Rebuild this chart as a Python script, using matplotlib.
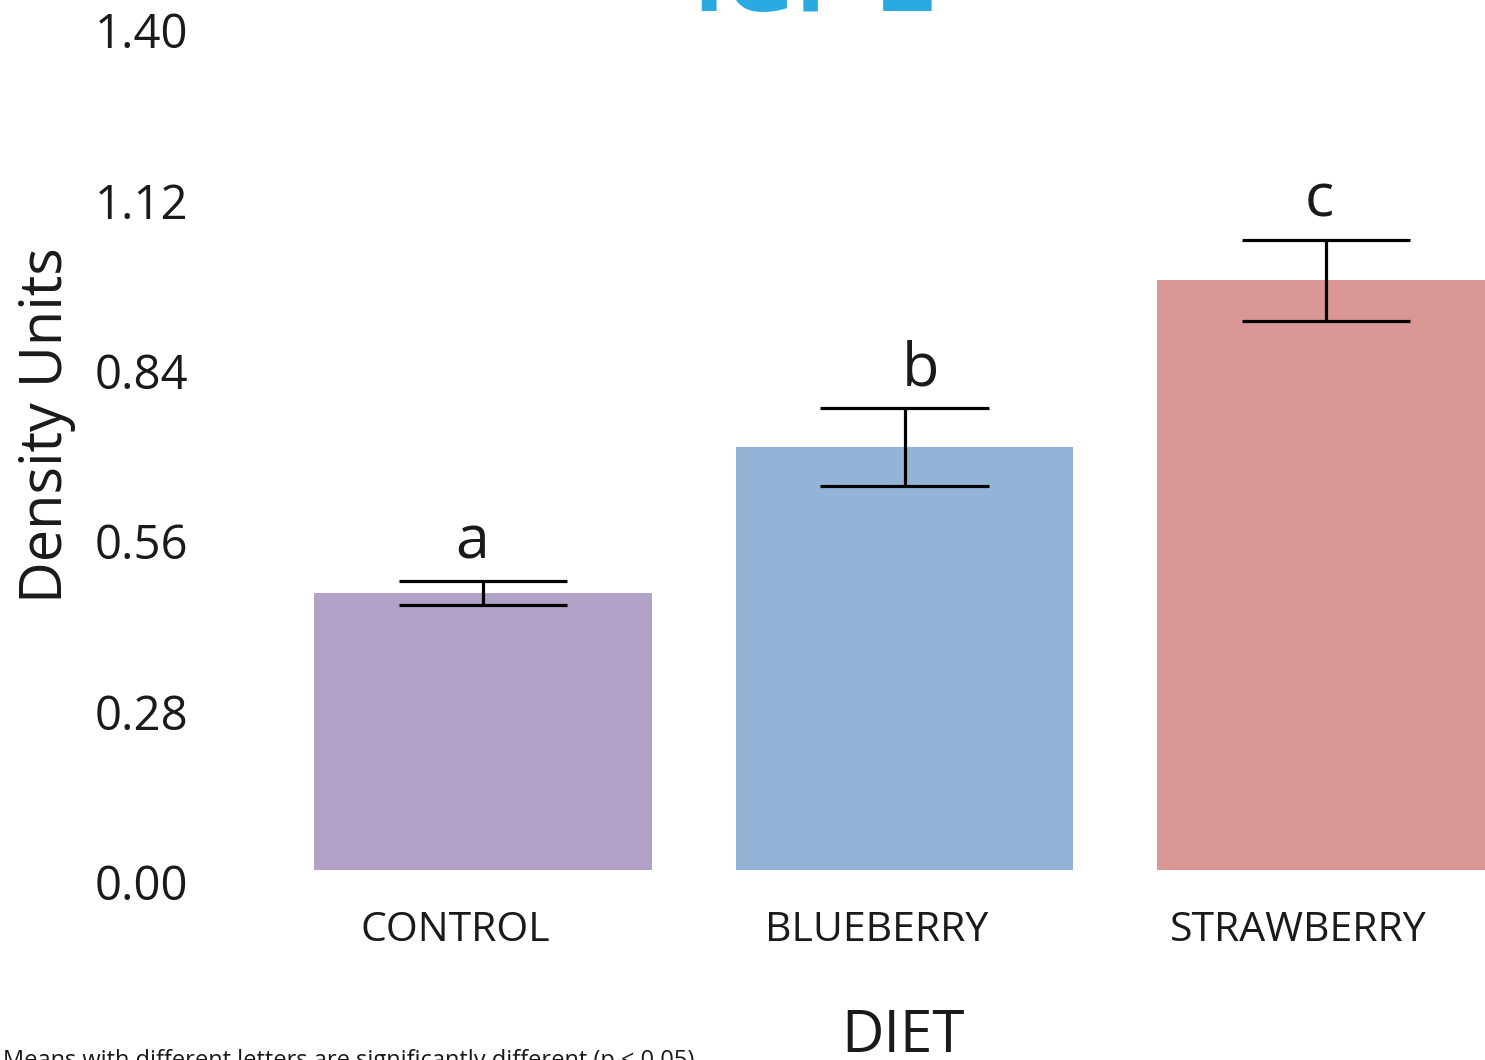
import matplotlib
matplotlib.use("Agg")
import matplotlib.pyplot as plt
from matplotlib.transforms import ScaledTranslation

plt.rcParams['font.family'] = ['Open Sans', 'DejaVu Sans']

# Data
diets = ["CONTROL", "BLUEBERRY", "STRAWBERRY"]
means = [0.455, 0.695, 0.969]
errors = [0.020, 0.064, 0.067]
letters = ["a", "b", "c"]
yticks = [0.00, 0.28, 0.56, 0.84, 1.12, 1.40]

bar_colors = ["#b3a2c7", "#95b3d7", "#d99694"]
letter_dx = [-0.025, 0.038, -0.017]  # small nudges seen in the original
text_color = "#1a1a1a"

W, H = 1485, 1060
fig = plt.figure(figsize=(W / 100, H / 100), dpi=100)

# axes placed in pixels: left 200, right at figure edge, y from 870 (0) to 18 (1.40)
left_px, bottom_px, top_px = 200, 870, 18
ax = fig.add_axes([left_px / W, 1 - bottom_px / H, (W - left_px) / W, (bottom_px - top_px) / H])

x = list(range(len(diets)))
ax.bar(x, means, width=0.8, color=bar_colors, zorder=1)

# error bars with caps spanning half the bar width
ax.vlines(x, [m - e for m, e in zip(means, errors)], [m + e for m, e in zip(means, errors)],
          color="black", lw=2.3, zorder=3)
for xi, m, e in zip(x, means, errors):
    ax.hlines([m - e, m + e], xi - 0.2, xi + 0.2, color="black", lw=2.3, zorder=3)

# significance letters
for xi, m, e, lab, dx in zip(x, means, errors, letters, letter_dx):
    ax.annotate(lab, (xi + dx, m + e), xytext=(0, 16.5), textcoords="offset points",
                ha="center", va="baseline", fontsize=44, color=text_color)

px_per_unit = 421.5
ax.set_xlim(-(483 - left_px) / px_per_unit, (W - 483) / px_per_unit)
ax.set_ylim(0, 1.40)

ax.set_xticks(x)
ax.set_xticklabels(diets, fontsize=29.5, color=text_color)
ax.set_yticks(yticks)
ax.set_yticklabels([f"{v:.2f}" for v in yticks], fontsize=34, color=text_color)
ax.tick_params(axis="both", length=0)
ax.tick_params(axis="x", pad=29)
ax.tick_params(axis="y", pad=8.5)

for lab in ax.get_xticklabels():
    lab.set_transform(lab.get_transform() + ScaledTranslation(-0.28, 0, fig.dpi_scale_trans))
for lab in ax.get_yticklabels():
    lab.set_transform(lab.get_transform() + ScaledTranslation(0, -0.12, fig.dpi_scale_trans))

for s in ax.spines.values():
    s.set_visible(False)

# title (mostly cut off at the top in the original)
fig.text(814 / W, 1 - 11 / H, "IGF-2", ha="center", va="baseline",
         fontsize=70, fontweight="bold", color="#29abe2")

# axis titles
fig.text(903 / W, 1 - 1052 / H, "DIET", ha="center", va="baseline",
         fontsize=42, color=text_color)
fig.text(62 / W, 1 - 425 / H, "Density Units", ha="center", va="baseline",
         rotation=90, rotation_mode="anchor", fontsize=41.5, color=text_color)

# footnote, cut off at the bottom
fig.text(3 / W, 1 - 1049 / H, "Means with different letters are significantly different (p < 0.05)",
         ha="left", va="top", fontsize=17, color=text_color)

fig.savefig("out.png", dpi=100)
